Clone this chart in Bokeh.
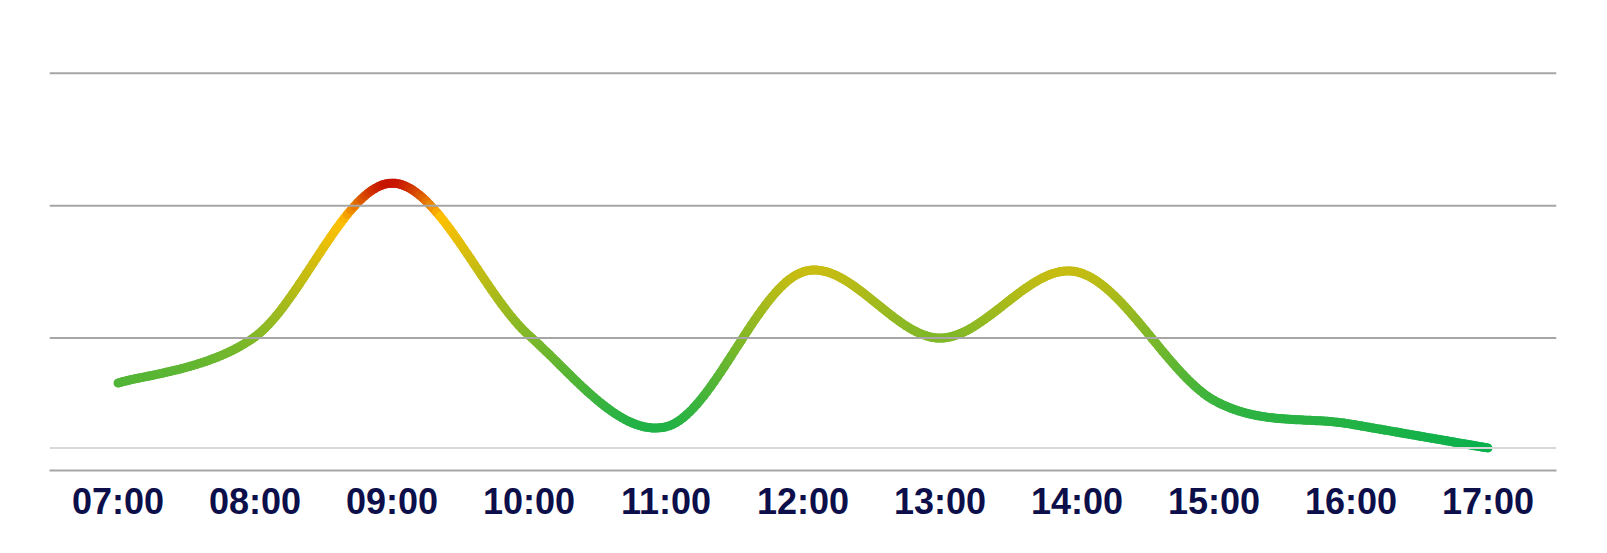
import numpy as np
from bokeh.plotting import figure
from bokeh.models import Range1d, Span, FixedTicker, ColumnDataSource
from bokeh.embed import file_html
from bokeh.resources import INLINE

hours = ["07:00", "08:00", "09:00", "10:00", "11:00", "12:00",
         "13:00", "14:00", "15:00", "16:00", "17:00"]
values = [0.66, 1.01, 2.17, 1.02, 0.33, 1.50, 1.00, 1.50, 0.53, 0.35, 0.17]
grid_values = [1, 2, 3]
baseline_value = min(values)

color_stops = [(0.1, (0x00, 0xB0, 0x50)), (1.9, (0xFF, 0xC0, 0x00)), (2.2, (0xC0, 0x00, 0x00))]


def color_for(v):
    if v <= color_stops[0][0]:
        c = color_stops[0][1]
    elif v >= color_stops[-1][0]:
        c = color_stops[-1][1]
    else:
        for (v0, c0), (v1, c1) in zip(color_stops[:-1], color_stops[1:]):
            if v0 <= v <= v1:
                t = (v - v0) / (v1 - v0)
                c = tuple(int(round(a + (b - a) * t)) for a, b in zip(c0, c1))
                break
    return "#%02x%02x%02x" % c


# smooth (Catmull-Rom) curve through the data points
xs = np.arange(len(values), dtype=float)
ys = np.array(values, dtype=float)
n = len(xs)
px, py = [], []
for i in range(n - 1):
    x0, y0 = xs[max(i - 1, 0)], ys[max(i - 1, 0)]
    x1, y1 = xs[i], ys[i]
    x2, y2 = xs[i + 1], ys[i + 1]
    x3, y3 = xs[min(i + 2, n - 1)], ys[min(i + 2, n - 1)]
    c1x, c1y = x1 + (x2 - x0) / 6, y1 + (y2 - y0) / 6
    c2x, c2y = x2 - (x3 - x1) / 6, y2 - (y3 - y1) / 6
    for t in np.linspace(0, 1, 40, endpoint=False):
        mt = 1 - t
        px.append(mt**3 * x1 + 3 * mt**2 * t * c1x + 3 * mt * t**2 * c2x + t**3 * x2)
        py.append(mt**3 * y1 + 3 * mt**2 * t * c1y + 3 * mt * t**2 * c2y + t**3 * y2)
px.append(xs[-1]); py.append(ys[-1])
px = np.array(px); py = np.array(py)

seg = ColumnDataSource(dict(
    x0=px[:-1], y0=py[:-1], x1=px[1:], y1=py[1:],
    c=[color_for((a + b) / 2) for a, b in zip(py[:-1], py[1:])],
))

p = figure(width=1591, height=537, output_backend="svg", toolbar_location=None,
           x_range=Range1d(-0.5, 10.5), y_range=Range1d(0, 3.3),
           min_border_left=49, min_border_right=35, min_border_top=33, min_border_bottom=67)
p.outline_line_color = None
p.background_fill_color = "white"
p.border_fill_color = "white"
p.xgrid.visible = False
p.ygrid.visible = False
p.yaxis.visible = False

for g in grid_values:
    p.add_layout(Span(location=g, dimension="width", line_color="#a6a6a6", line_width=2))
p.add_layout(Span(location=baseline_value, dimension="width", line_color="#d9d9d9", line_width=2))

p.segment("x0", "y0", "x1", "y1", source=seg, line_color="c", line_width=9, line_cap="round")

ax = p.xaxis[0]
ax.ticker = FixedTicker(ticks=list(range(len(hours))))
ax.major_label_overrides = {i: h for i, h in enumerate(hours)}
ax.axis_line_color = "#a6a6a6"
ax.axis_line_width = 2
ax.major_tick_line_color = None
ax.minor_tick_line_color = None
ax.major_tick_out = 0
ax.major_label_standoff = 10
ax.major_label_text_font = "Liberation Sans"
ax.major_label_text_font_style = "bold"
ax.major_label_text_font_size = "36px"
ax.major_label_text_color = "#0c0f4a"

open("out.html", "w").write(file_html(p, INLINE))
